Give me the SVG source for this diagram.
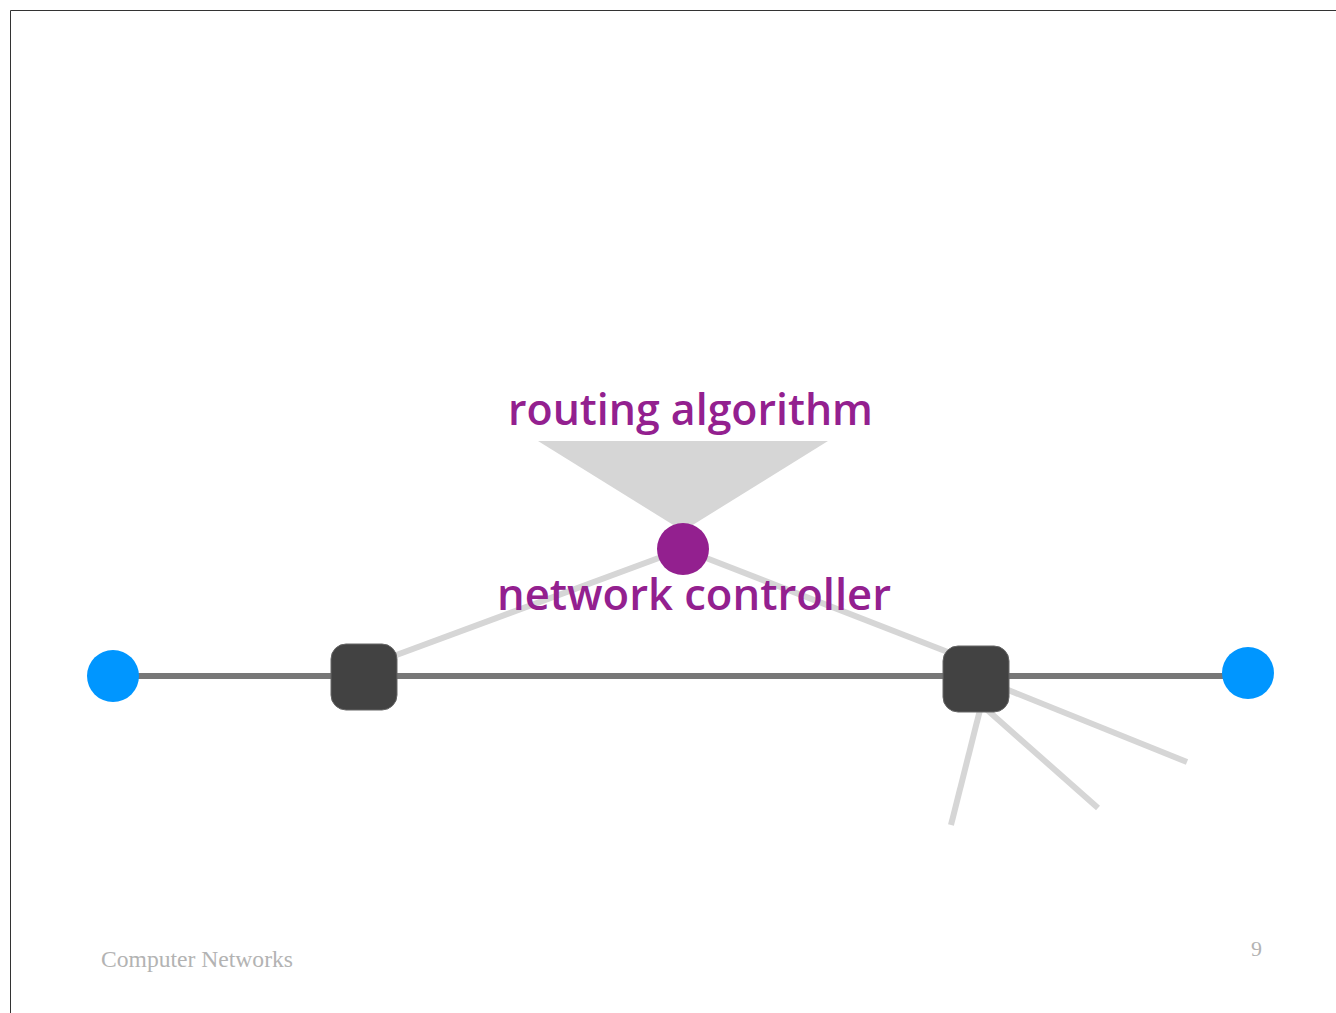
<svg xmlns="http://www.w3.org/2000/svg" width="1336" height="1013" viewBox="0 0 1336 1013">
<style>
.purple{fill:#93208f;font-family:"Open Sans","Noto Sans",sans-serif;font-weight:600;font-size:43px}
.light{stroke:#d6d6d6;stroke-width:6;fill:none}
.dark{stroke:#777;stroke-width:6;fill:none}
.switch{fill:#424242;stroke:#666;stroke-width:1}
.host{fill:#0096ff}
.foot{fill:#b3b3b3;font-family:"Liberation Serif",serif}
</style>
<rect x="0" y="0" width="1336" height="1013" fill="#fff"/>
<path d="M10.5 1013 V10.5 H1336" fill="none" stroke="#333" stroke-width="1"/>
<g id="connectors">
<line class="light" x1="683" y1="549" x2="364" y2="667"/>
<line class="light" x1="683" y1="549" x2="976" y2="663"/>
<line class="light" x1="976" y1="677" x2="1187" y2="762"/>
<line class="light" x1="976" y1="700" x2="1098" y2="808"/>
<line class="light" x1="985" y1="690" x2="951" y2="825"/>
<line class="dark" x1="113" y1="676" x2="1248" y2="676"/>
</g>
<g id="routing-algorithm">
<polygon points="538,441 828,441 683,531" fill="#d6d6d6"/>
<text class="purple" x="508" y="425" textLength="365" lengthAdjust="spacingAndGlyphs">routing algorithm</text>
</g>
<g id="network-controller">
<circle cx="683" cy="549" r="26" fill="#93208f"/>
<text class="purple" x="497" y="610" textLength="394" lengthAdjust="spacingAndGlyphs">network controller</text>
</g>
<g id="switch-left"><rect class="switch" x="331" y="644" width="66" height="66" rx="15"/></g>
<g id="switch-right"><rect class="switch" x="943" y="646" width="66" height="66" rx="15"/></g>
<g id="host-left"><circle class="host" cx="113" cy="676" r="26"/></g>
<g id="host-right"><circle class="host" cx="1248" cy="673" r="26"/></g>
<g id="footer">
<text class="foot" x="101" y="967" font-size="24" textLength="192" lengthAdjust="spacingAndGlyphs">Computer Networks</text>
<text class="foot" x="1251" y="956" font-size="22">9</text>
</g>
</svg>
